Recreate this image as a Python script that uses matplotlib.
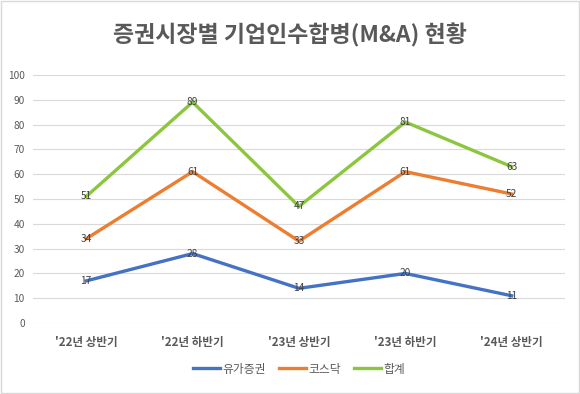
import matplotlib
matplotlib.use("Agg")
import matplotlib.pyplot as plt
from matplotlib.patches import Rectangle

plt.rcParams['font.family'] = ['Noto Sans CJK KR', 'DejaVu Sans']

categories = ["'22년 상반기", "'22년 하반기", "'23년 상반기", "'23년 하반기", "'24년 상반기"]
series_names = ["유가증권", "코스닥", "합계"]
kospi = [17, 28, 14, 20, 11]
kosdaq = [34, 61, 33, 61, 52]
total = [51, 89, 47, 81, 63]
colors = ["#4472C4", "#ED7D31", "#8CC63F"]
yticks = list(range(0, 101, 10))

fig = plt.figure(figsize=(5.8, 3.94), dpi=100)
fig.patches.append(Rectangle((0.002, 0.002), 0.996, 0.996, transform=fig.transFigure,
                             fill=False, edgecolor="#D9D9D9", linewidth=1))
ax = fig.add_axes([0.057, 0.180, 0.917, 0.630])

x = list(range(len(categories)))
for name, vals, c in zip(series_names, [kospi, kosdaq, total], colors):
    ax.plot(x, vals, color=c, linewidth=2.4, label=name, solid_joinstyle='miter')
    for xi, v in zip(x, vals):
        ax.text(xi, v, str(v), ha='center', va='center', fontsize=7.3, color='#404040')

ax.set_xlim(-0.5, len(categories) - 0.5)
ax.set_ylim(0, 100)
ax.set_yticks(yticks)
ax.set_yticklabels([str(t) for t in yticks], fontsize=7.3, color='#595959')
ax.set_xticks(x)
ax.set_xticklabels(categories, fontsize=8.3, color='#595959', fontweight='bold')
ax.tick_params(axis='both', length=0)
ax.tick_params(axis='x', pad=9)
ax.tick_params(axis='y', pad=6)
ax.grid(axis='y', color='#D9D9D9', linewidth=0.8)
ax.set_axisbelow(True)
for s in ax.spines.values():
    s.set_visible(False)

fig.text(0.5, 0.91, "증권시장별 기업인수합병(M&A) 현황", ha='center', va='center',
         fontsize=16.5, color='#595959', fontweight='bold')

ax.legend(loc='center', bbox_to_anchor=(0.5, -0.185), ncol=3, frameon=False,
          fontsize=8.5, handlelength=2.3, handletextpad=0.2, columnspacing=1.1,
          labelcolor='#595959')

fig.savefig("out.png", dpi=100, facecolor='white')
